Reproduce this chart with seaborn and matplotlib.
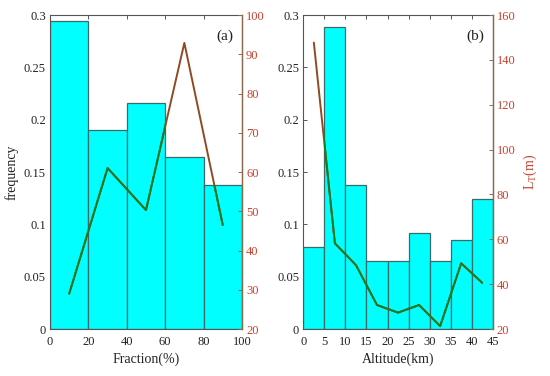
import numpy as np
import matplotlib
matplotlib.use("Agg")
import matplotlib.pyplot as plt
from matplotlib.path import Path
from matplotlib.ticker import FuncFormatter, MultipleLocator
import seaborn as sns

# ---- data ----
frac_edges = [0, 20, 40, 60, 80, 100]
frac_centers = [10, 30, 50, 70, 90]
frac_freq = [0.294, 0.190, 0.216, 0.164, 0.138]
frac_LT = [29.0, 61.0, 50.3, 92.9, 46.5]

alt_edges = [0, 5, 10, 15, 20, 25, 30, 35, 40, 45]
alt_centers = [2.5, 7.5, 12.5, 17.5, 22.5, 27.5, 32.5, 37.5, 42.5]
alt_freq = [0.078, 0.289, 0.138, 0.065, 0.065, 0.092, 0.065, 0.085, 0.124]
alt_LT = [147.7, 58.2, 48.5, 30.7, 27.3, 30.7, 21.3, 49.3, 40.6]

sns.set_theme(style="white")
plt.rcParams['font.family'] = ['Liberation Serif', 'DejaVu Serif']
plt.rcParams['mathtext.fontset'] = 'custom'
plt.rcParams['mathtext.rm'] = 'Liberation Serif'

CYAN = '#00FFFF'
EDGE = '#3B6A6A'
GREEN = '#1F7A22'
BROWN = '#8F4A24'
RED = '#C8412E'
SPINE = '#555555'
RSPINE = '#8B6A50'

fig = plt.figure(figsize=(5.5, 3.76), dpi=100)
axA = fig.add_axes([0.0909, 0.125, 0.349, 0.835])
axB = fig.add_axes([0.5515, 0.125, 0.3444, 0.835])

fmt = FuncFormatter(lambda v, p: '%g' % round(v, 4))


def panel(ax, centers, freq, edges, LT, xmax, xstep, rlim, rstep, letter, xlabel, rlabel):
    sns.histplot(x=centers, weights=freq, bins=edges, ax=ax, color=CYAN,
                 edgecolor=EDGE, linewidth=0.9, alpha=1.0, stat='count')
    ax.set_xlim(0, xmax)
    ax.set_ylim(0, 0.3)
    ax.xaxis.set_major_locator(MultipleLocator(xstep))
    ax.yaxis.set_major_locator(MultipleLocator(0.05))
    ax.yaxis.set_major_formatter(fmt)
    ax.set_xlabel(xlabel, fontsize=10, color='#222222', labelpad=3)
    ax.set_ylabel('')
    ax.tick_params(axis='both', direction='in', length=3, width=0.7,
                   top=True, right=True, labelsize=9, colors='#222222', pad=3)
    ax.tick_params(axis='x', pad=5)
    ax.tick_params(axis='both', which='both', color=SPINE)
    for s in ax.spines.values():
        s.set_color(SPINE)
        s.set_linewidth(0.8)
    ax.text(0.955, 0.955, letter, transform=ax.transAxes, ha='right', va='top',
            fontsize=11, color='#222222')

    # clip path from bars (union of rectangles)
    rects = [Path([(edges[i], 0), (edges[i + 1], 0), (edges[i + 1], freq[i]),
                   (edges[i], freq[i]), (edges[i], 0)],
                  [Path.MOVETO, Path.LINETO, Path.LINETO, Path.LINETO, Path.CLOSEPOLY])
             for i in range(len(freq))]
    bar_path = Path.make_compound_path(*rects)

    tw = ax.twinx()
    sns.lineplot(x=centers, y=LT, ax=tw, color=BROWN, linewidth=1.4)
    sns.lineplot(x=centers, y=LT, ax=tw, color=GREEN, linewidth=1.4)
    tw.lines[-1].set_clip_path(bar_path, ax.transData)
    tw.set_ylim(*rlim)
    tw.set_xlim(0, xmax)
    tw.yaxis.set_major_locator(MultipleLocator(rstep))
    tw.tick_params(axis='y', direction='in', length=3, width=0.7, labelsize=9,
                   colors=RED, pad=3)
    tw.tick_params(axis='y', color=RSPINE)
    for s in tw.spines.values():
        s.set_visible(False)
    tw.spines['right'].set_visible(True)
    tw.spines['right'].set_color(RSPINE)
    tw.spines['right'].set_linewidth(1.0)
    if rlabel:
        tw.set_ylabel(rlabel, fontsize=10, color=RED, labelpad=4)
    else:
        tw.set_ylabel('')
    return tw


panel(axA, frac_centers, frac_freq, frac_edges, frac_LT, 100, 20, (20, 100), 10,
      '(a)', 'Fraction(%)', None)
panel(axB, alt_centers, alt_freq, alt_edges, alt_LT, 45, 5, (20, 160), 20,
      '(b)', 'Altitude(km)', r'L$_\mathrm{T}$(m)')
axA.set_ylabel('frequency', fontsize=10, color='#222222', labelpad=4)

fig.savefig('out.png', dpi=100)
